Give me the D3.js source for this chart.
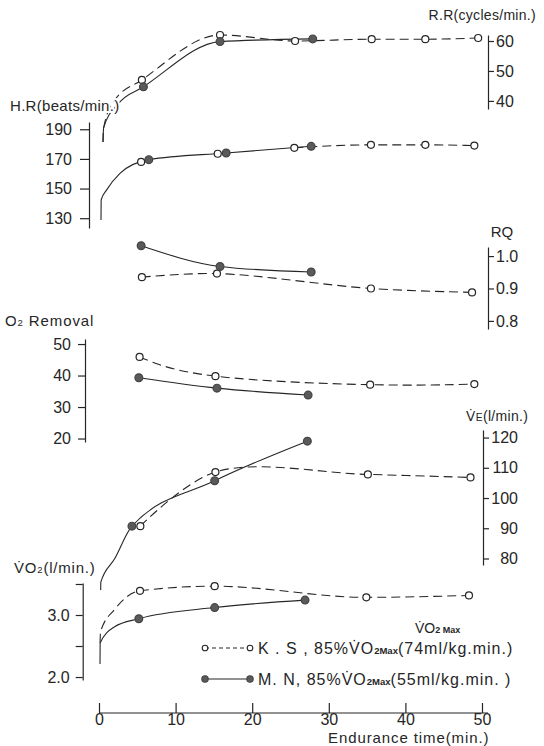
<!DOCTYPE html>
<html><head><meta charset="utf-8">
<script src="https://cdn.jsdelivr.net/npm/d3@7"></script>
<style>
html,body{margin:0;padding:0;background:#fff;}
svg{display:block;}
</style></head><body>
<svg id="chart" width="544" height="746"></svg>
<script>
// ---- Data: endurance time (min) and measured values for two subjects ----
// Respiratory rate (cycles/min)
const rrTimeKS = [5.6, 15.8, 25.6, 35.6, 42.6, 49.5];
const rrKS     = [47, 62, 60, 60.6, 60.6, 61];
const rrTimeMN = [5.8, 15.8, 27.9];
const rrMN     = [44.7, 59.8, 60.7];
const rrStartKS = [[0.52, 26.3], [0.6, 31], [2.0, 40.1]];
const rrStartMN = [[0.52, 26.3], [0.6, 31], [2.5, 39]];

// Heart rate (beats/min)
const hrTimeKS = [5.5, 15.5, 25.5, 35.5, 42.6, 49];
const hrKS     = [168, 173.5, 177.5, 179.5, 179.5, 179];
const hrTimeMN = [6.5, 16.6, 27.7];
const hrMN     = [169.5, 174, 178.5];
const hrStartMN = [[0.26, 128.8], [0.28, 142.3], [1.0, 149.1], [2.74, 160.3]];

// Respiratory quotient
const rqTimeKS = [5.6, 15.4, 35.5, 48.7];
const rqKS     = [0.935, 0.946, 0.90, 0.888];
const rqTimeMN = [5.5, 15.8, 27.7];
const rqMN     = [1.032, 0.968, 0.951];

// O2 removal
const o2TimeKS = [5.3, 15.2, 35.4, 49];
const o2KS     = [45.9, 39.8, 37.1, 37.3];
const o2TimeMN = [5.2, 15.4, 27.3];
const o2MN     = [39.3, 36, 33.8];

// Minute ventilation (l/min)
const veTimeKS = [5.4, 15.2, 35.1, 48.5];
const veKS     = [90.7, 108.6, 107.8, 106.8];
const veTimeMN = [4.3, 15.1, 27.2];
const veMN     = [90.7, 105.7, 118.8];
const veStartMN = [[0.22, 69.6], [0.24, 72.2], [2.04, 79.9]];

// Oxygen uptake (l/min)
const vo2TimeKS = [5.35, 15.1, 34.9, 48.3];
const vo2KS     = [3.39, 3.465, 3.285, 3.315];
const vo2TimeMN = [5.2, 15.1, 26.9];
const vo2MN     = [2.94, 3.12, 3.24];
const vo2StartKS = [[0.14, 2.55], [0.2, 2.73], [2.04, 3.09]];
const vo2StartMN = [[0.13, 2.21], [0.15, 2.55], [2.04, 2.81]];

// Tick values
const timeTicks = [0, 10, 20, 30, 40, 50];
const rrTicks   = [40, 50, 60];
const hrTicks   = [130, 150, 170, 190];
const rqTicks   = [0.8, 0.9, 1.0];
const o2Ticks   = [20, 30, 40, 50];
const veTicks   = [80, 90, 100, 110, 120];
const vo2Ticks  = [2.0, 2.5, 3.0, 3.5];
const vo2Labelled = [2.0, 3.0];

// Legend
const subjectNames = ["K . S , 85%", "M. N, 85%"];
const subjectRefs  = ["(74ml/kg.min.)", "(55ml/kg.min. )"];

// ---- Drawing ----
const FONT = "'Liberation Sans', Arial, sans-serif";
const ink = "#262626";
const svg = d3.select("#chart").attr("font-family", FONT);

const x = d3.scaleLinear().domain([0, 50]).range([99, 482]);

const yRR  = d3.scaleLinear().domain([37.3, 62]).range([109, 35]);
const yHR  = d3.scaleLinear().domain([123.4, 194.9]).range([228, 122]);
const yRQ  = d3.scaleLinear().domain([0.775, 1.028]).range([329, 247]);
const yO2  = d3.scaleLinear().domain([18.9, 51.6]).range([442, 339]);
const yVE  = d3.scaleLinear().domain([77.85, 122.5]).range([565, 430]);
const yVO2 = d3.scaleLinear().domain([1.952, 3.516]).range([680, 583]);

const pairs = (ts, vs) => ts.map((t, i) => [t, vs[i]]);

function styleAxis(g) {
  g.attr("font-family", FONT).attr("font-size", 16);
  g.select(".domain").attr("stroke", ink).attr("stroke-width", 1.2);
  g.selectAll(".tick line").attr("stroke", ink).attr("stroke-width", 1.2);
  g.selectAll(".tick text").attr("fill", ink);
}

// Right-hand and left-hand panel axes
svg.append("g").attr("transform", "translate(488,0)")
  .call(d3.axisRight(yRR).tickValues(rrTicks).tickSize(6).tickPadding(2).tickSizeOuter(0))
  .call(styleAxis);
svg.append("g").attr("transform", "translate(89,0)")
  .call(d3.axisLeft(yHR).tickValues(hrTicks).tickSize(9).tickPadding(8).tickSizeOuter(0))
  .call(styleAxis);
svg.append("g").attr("transform", "translate(488,0)")
  .call(d3.axisRight(yRQ).tickValues(rqTicks).tickFormat(d3.format(".1f")).tickSize(6).tickPadding(2).tickSizeOuter(0))
  .call(styleAxis);
svg.append("g").attr("transform", "translate(85,0)")
  .call(d3.axisLeft(yO2).tickValues(o2Ticks).tickSize(7).tickPadding(7).tickSizeOuter(0))
  .call(styleAxis);
const veAxis = svg.append("g").attr("transform", "translate(483,0)")
  .call(d3.axisRight(yVE).tickValues(veTicks).tickSize(6).tickPadding(2).tickSizeOuter(0))
  .call(styleAxis);
veAxis.selectAll(".tick text").attr("text-anchor", "end").attr("x", 35);
svg.append("g").attr("transform", "translate(82.7,0)")
  .call(d3.axisLeft(yVO2).tickValues(vo2Ticks)
    .tickFormat(v => vo2Labelled.includes(v) ? d3.format(".1f")(v) : "")
    .tickSize(7).tickPadding(6).tickSizeOuter(0))
  .call(styleAxis);

// Time axis with upward ticks
const xAxis = svg.append("g").attr("transform", "translate(0,713)")
  .call(d3.axisBottom(x).tickValues(timeTicks).tickSize(-10).tickPadding(1).tickSizeOuter(0))
  .call(styleAxis);
xAxis.select(".domain").remove();
xAxis.append("line").attr("x1", x(0)).attr("x2", x(50) + 6)
  .attr("stroke", ink).attr("stroke-width", 1.2);

// Curves
function drawLine(ys, data, dashed, curve) {
  svg.append("path").datum(data)
    .attr("d", d3.line().x(d => x(d[0])).y(d => ys(d[1])).curve(curve || d3.curveMonotoneX))
    .attr("fill", "none").attr("stroke", ink).attr("stroke-width", 1.1)
    .attr("stroke-dasharray", dashed ? "9,5" : null);
}
function drawMarks(ys, data, filled) {
  svg.append("g").selectAll("circle").data(data).join("circle")
    .attr("cx", d => x(d[0])).attr("cy", d => ys(d[1]))
    .attr("r", filled ? 3.9 : 3.5)
    .attr("fill", filled ? "#5a5a5a" : "#fff")
    .attr("stroke", filled ? "#444" : ink).attr("stroke-width", 1.2);
}

const ks = {
  rr: pairs(rrTimeKS, rrKS), hr: pairs(hrTimeKS, hrKS), rq: pairs(rqTimeKS, rqKS),
  o2: pairs(o2TimeKS, o2KS), ve: pairs(veTimeKS, veKS), vo2: pairs(vo2TimeKS, vo2KS)
};
const mn = {
  rr: pairs(rrTimeMN, rrMN), hr: pairs(hrTimeMN, hrMN), rq: pairs(rqTimeMN, rqMN),
  o2: pairs(o2TimeMN, o2MN), ve: pairs(veTimeMN, veMN), vo2: pairs(vo2TimeMN, vo2MN)
};

// R.R
drawLine(yRR, rrStartKS.concat(ks.rr), true);
drawLine(yRR, rrStartMN.concat(mn.rr), false);
// H.R: one common rise, dashed continuation for K.S
drawLine(yHR, hrStartMN.concat(mn.hr), false);
drawLine(yHR, ks.hr.slice(2), true);
// RQ
drawLine(yRQ, ks.rq, true, d3.curveCatmullRom.alpha(0.5));
drawLine(yRQ, mn.rq, false);
// O2 removal
drawLine(yO2, ks.o2, true, d3.curveNatural);
drawLine(yO2, mn.o2, false);
// VE
drawLine(yVE, ks.ve, true, d3.curveCatmullRom.alpha(0.5));
drawLine(yVE, veStartMN.concat(mn.ve), false);
// VO2
drawLine(yVO2, vo2StartKS.concat(ks.vo2), true);
drawLine(yVO2, vo2StartMN.concat(mn.vo2), false);

["rr", "hr", "rq", "o2", "ve", "vo2"].forEach(k => {
  const ys = {rr: yRR, hr: yHR, rq: yRQ, o2: yO2, ve: yVE, vo2: yVO2}[k];
  drawMarks(ys, ks[k], false);
  drawMarks(ys, mn[k], true);
});

// Axis titles (white halo so curves break around them)
function label(xp, yp, size, anchor) {
  return svg.append("text").attr("x", xp).attr("y", yp)
    .attr("font-size", size).attr("text-anchor", anchor || "start").attr("fill", ink)
    .attr("stroke", "#fff").attr("stroke-width", 4).attr("paint-order", "stroke")
    .attr("stroke-linejoin", "round");
}
label(536, 20, 14, "end").attr("letter-spacing", 0.3).text("R.R(cycles/min.)");
label(10, 111, 15).attr("letter-spacing", 0.3).text("H.R(beats/min.)");
label(502, 237, 15, "middle").text("RQ");
const o2t = label(5, 326, 15).attr("letter-spacing", 0.9);
o2t.append("tspan").text("O");
o2t.append("tspan").attr("font-size", 9.5).text("2");
o2t.append("tspan").text(" Removal");
const vet = label(466, 421, 14).attr("letter-spacing", 0.3);
vet.append("tspan").text("V\u0307");
vet.append("tspan").attr("font-size", 10.5).text("E");
vet.append("tspan").text("(l/min.)");
const vot = label(14, 573, 15).attr("letter-spacing", 0.8);
vot.append("tspan").text("V\u0307O");
vot.append("tspan").attr("font-size", 9.5).text("2");
vot.append("tspan").text("(l/min.)");
label(328, 743, 15).attr("letter-spacing", 0.9).text("Endurance time(min.)");

// Legend
const lg = svg.append("g");
const head = lg.append("text").attr("x", 415).attr("y", 633).attr("font-size", 14).attr("fill", ink);
head.append("tspan").text("V\u0307O");
head.append("tspan").attr("font-size", 9).attr("font-weight", "bold").text("2 Max");

const rows = [648, 679];
rows.forEach((ry, i) => {
  const filled = i === 1;
  lg.append("line").attr("x1", 205).attr("x2", 250).attr("y1", ry).attr("y2", ry)
    .attr("stroke", ink).attr("stroke-width", 1.1)
    .attr("stroke-dasharray", filled ? null : "4,3");
  [205, 250].forEach(cx => lg.append("circle").attr("cx", cx).attr("cy", ry)
    .attr("r", filled ? 3.2 : 2.8)
    .attr("fill", filled ? "#5a5a5a" : "#fff")
    .attr("stroke", filled ? "#444" : ink).attr("stroke-width", 1.1));
  const t = lg.append("text").attr("x", 258).attr("y", ry + 5.5)
    .attr("font-size", 16).attr("letter-spacing", 1.0).attr("fill", ink);
  t.append("tspan").text(subjectNames[i] + "V\u0307O");
  t.append("tspan").attr("font-size", 9.5).attr("font-weight", "bold").attr("letter-spacing", 0).text("2Max");
  t.append("tspan").text(subjectRefs[i]);
});
</script>
</body></html>
